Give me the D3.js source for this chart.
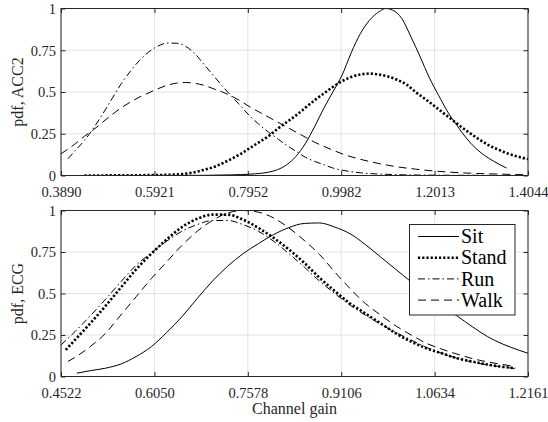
<!DOCTYPE html>
<html><head><meta charset="utf-8">
<script src="https://cdn.jsdelivr.net/npm/d3@7/dist/d3.min.js"></script>
<style>body{margin:0;background:#fff}svg{display:block}</style>
</head><body>
<svg id="c" width="548" height="422"></svg>
<script>
// ---- data ----
const seriesNames = ["Sit", "Stand", "Run", "Walk"];
const yTicks = [0, 0.25, 0.5, 0.75, 1];
const accTicks = [0.3890, 0.5921, 0.7952, 0.9982, 1.2013, 1.4044];
const ecgTicks = [0.4522, 0.6050, 0.7578, 0.9106, 1.0634, 1.2161];

// Top panel: ACC2
const accSitX = [0.56,0.70,0.76,0.80,0.84,0.86,0.88,0.90,0.92,0.94,0.96,0.98,1.00,1.02,1.04,1.06,1.08,1.095,1.11,1.13,1.15,1.17,1.19,1.21,1.23,1.25,1.27,1.29,1.31,1.33,1.358];
const accSitY = [0.0,0.001,0.004,0.008,0.02,0.035,0.065,0.115,0.19,0.29,0.40,0.50,0.60,0.735,0.85,0.93,0.98,1.0,0.99,0.94,0.83,0.71,0.585,0.48,0.38,0.30,0.225,0.165,0.12,0.085,0.044];
const accStandX = [0.44,0.52,0.60,0.64,0.66,0.68,0.70,0.72,0.74,0.76,0.78,0.80,0.82,0.84,0.86,0.88,0.90,0.92,0.94,0.96,0.98,1.00,1.02,1.04,1.06,1.08,1.10,1.12,1.14,1.16,1.18,1.20,1.22,1.24,1.26,1.28,1.30,1.32,1.34,1.36,1.38,1.4044];
const accStandY = [0.0,0.001,0.003,0.006,0.011,0.02,0.034,0.05,0.073,0.10,0.13,0.165,0.20,0.235,0.28,0.32,0.36,0.405,0.45,0.49,0.53,0.565,0.59,0.605,0.61,0.605,0.593,0.573,0.545,0.50,0.46,0.418,0.375,0.332,0.29,0.25,0.213,0.18,0.155,0.132,0.115,0.098];
const accRunX = [0.404,0.42,0.44,0.46,0.48,0.50,0.52,0.54,0.56,0.58,0.60,0.62,0.64,0.66,0.68,0.70,0.72,0.74,0.76,0.78,0.80,0.82,0.84,0.86,0.88,0.90,0.92,0.94,0.96,0.98,1.00,1.04,1.08,1.12,1.20,1.30,1.4044];
const accRunY = [0.10,0.15,0.21,0.285,0.37,0.46,0.55,0.625,0.69,0.74,0.775,0.793,0.792,0.773,0.73,0.665,0.60,0.535,0.475,0.415,0.355,0.305,0.26,0.22,0.18,0.145,0.11,0.085,0.065,0.045,0.032,0.016,0.009,0.005,0.002,0.001,0.0];
const accWalkX = [0.389,0.42,0.44,0.46,0.48,0.50,0.52,0.54,0.56,0.58,0.60,0.62,0.64,0.66,0.68,0.70,0.72,0.74,0.76,0.78,0.80,0.82,0.84,0.86,0.88,0.90,0.92,0.94,0.96,0.98,1.00,1.04,1.08,1.12,1.16,1.20,1.26,1.32,1.4044];
const accWalkY = [0.13,0.19,0.235,0.275,0.32,0.365,0.405,0.44,0.47,0.495,0.52,0.54,0.553,0.557,0.552,0.54,0.52,0.50,0.475,0.445,0.41,0.38,0.35,0.32,0.29,0.26,0.23,0.20,0.175,0.152,0.13,0.097,0.072,0.052,0.038,0.027,0.016,0.010,0.004];

// Bottom panel: ECG
const ecgSitX = [0.478,0.50,0.525,0.55,0.575,0.60,0.625,0.65,0.675,0.70,0.725,0.75,0.775,0.80,0.825,0.85,0.875,0.90,0.925,0.95,0.975,1.00,1.025,1.05,1.075,1.10,1.125,1.15,1.175,1.20,1.2161];
const ecgSitY = [0.02,0.035,0.05,0.075,0.12,0.18,0.265,0.36,0.47,0.575,0.665,0.74,0.80,0.855,0.897,0.922,0.925,0.90,0.86,0.795,0.72,0.645,0.57,0.50,0.43,0.365,0.30,0.24,0.195,0.16,0.14];
const ecgStandX = [0.46,0.475,0.50,0.525,0.55,0.575,0.60,0.625,0.65,0.675,0.70,0.725,0.75,0.775,0.80,0.825,0.85,0.875,0.90,0.925,0.95,0.975,1.00,1.025,1.05,1.075,1.10,1.125,1.15,1.175,1.195];
const ecgStandY = [0.16,0.22,0.32,0.425,0.535,0.645,0.74,0.825,0.90,0.95,0.975,0.975,0.945,0.895,0.835,0.765,0.685,0.595,0.515,0.44,0.38,0.32,0.26,0.21,0.17,0.14,0.11,0.09,0.072,0.058,0.05];
const ecgRunX = [0.4522,0.475,0.50,0.525,0.55,0.575,0.60,0.625,0.65,0.675,0.70,0.725,0.75,0.775,0.80,0.825,0.85,0.875,0.90,0.925,0.95,0.975,1.00,1.025,1.05,1.075,1.10,1.125,1.15,1.175,1.195];
const ecgRunY = [0.19,0.27,0.365,0.465,0.57,0.67,0.745,0.815,0.875,0.915,0.94,0.94,0.915,0.875,0.815,0.74,0.66,0.575,0.50,0.43,0.37,0.315,0.265,0.22,0.175,0.14,0.11,0.087,0.07,0.057,0.048];
const ecgWalkX = [0.4634,0.475,0.50,0.525,0.55,0.575,0.60,0.625,0.65,0.675,0.70,0.725,0.75,0.775,0.80,0.825,0.85,0.875,0.90,0.925,0.95,0.975,1.00,1.025,1.05,1.075,1.10,1.125,1.15,1.175,1.195];
const ecgWalkY = [0.09,0.115,0.18,0.26,0.37,0.48,0.59,0.69,0.79,0.875,0.94,0.985,1.0,0.99,0.955,0.895,0.82,0.735,0.63,0.53,0.44,0.37,0.305,0.25,0.20,0.165,0.135,0.108,0.088,0.072,0.06];

// ---- drawing ----
const svg = d3.select("#c");
const font = "Liberation Serif, Times New Roman, serif";
const styles = {
  Sit:   {w: 1,   dash: null},
  Stand: {w: 2.6, dash: "2.2,2"},
  Run:   {w: 1,   dash: "7,3,1.5,3"},
  Walk:  {w: 1,   dash: "8,5"}
};
const left = 61, right = 528;

function panel(top, bottom, xTicks, data, ylab, id) {
  const x = d3.scaleLinear().domain([xTicks[0], xTicks[xTicks.length-1]]).range([left, right]);
  const y = d3.scaleLinear().domain([0, 1]).range([bottom, top]);
  const g = svg.append("g");
  g.append("defs").append("clipPath").attr("id", id)
    .append("rect").attr("x", left).attr("y", top).attr("width", right-left).attr("height", bottom-top);
  // grid
  g.append("g").selectAll("line").data(xTicks).join("line")
    .attr("x1", d => x(d)).attr("x2", d => x(d)).attr("y1", top).attr("y2", bottom)
    .attr("stroke", "#e3e3e3").attr("stroke-width", 1);
  g.append("g").selectAll("line").data(yTicks).join("line")
    .attr("x1", left).attr("x2", right).attr("y1", d => y(d)).attr("y2", d => y(d))
    .attr("stroke", "#e3e3e3").attr("stroke-width", 1);
  // curves
  const line = d3.line().x(d => x(d[0])).y(d => y(d[1])).curve(d3.curveMonotoneX);
  const cg = g.append("g").attr("clip-path", `url(#${id})`);
  data.forEach(s => {
    cg.append("path").datum(d3.zip(s.x, s.y))
      .attr("d", line).attr("fill", "none").attr("stroke", "#000")
      .attr("stroke-width", styles[s.name].w)
      .attr("stroke-dasharray", styles[s.name].dash);
  });
  // axes (inward ticks on all sides)
  const tl = 4.5;
  const ax = g.append("g").attr("transform", `translate(0,${bottom})`)
    .call(d3.axisBottom(x).tickValues(xTicks).tickFormat(d3.format(".4f")).tickSizeInner(-tl).tickSizeOuter(0));
  ax.selectAll(".tick text").attr("y", 21).attr("dy", null);
  const axT = g.append("g").attr("transform", `translate(0,${top})`)
    .call(d3.axisTop(x).tickValues(xTicks).tickFormat("").tickSizeInner(-tl).tickSizeOuter(0));
  const ay = g.append("g").attr("transform", `translate(${left},0)`)
    .call(d3.axisLeft(y).tickValues(yTicks).tickFormat(d3.format("~g")).tickSizeInner(-tl).tickSizeOuter(0));
  ay.selectAll(".tick text").attr("x", -5).attr("dy", "0.33em");
  const ayR = g.append("g").attr("transform", `translate(${right},0)`)
    .call(d3.axisRight(y).tickValues(yTicks).tickFormat("").tickSizeInner(-tl).tickSizeOuter(0));
  [ax, axT, ay, ayR].forEach(a => {
    a.attr("font-family", font);
    a.select(".domain").remove();
    a.selectAll(".tick line").attr("stroke", "#262626");
    a.selectAll("text").attr("font-family", font).attr("font-size", 14.5).attr("fill", "#262626");
  });
  g.append("rect").attr("x", left).attr("y", top).attr("width", right-left).attr("height", bottom-top)
    .attr("fill", "none").attr("stroke", "#262626").attr("stroke-width", 1);
  g.append("text").attr("transform", `translate(23,${(top+bottom)/2}) rotate(-90)`)
    .attr("text-anchor", "middle").attr("font-family", font).attr("font-size", 16).attr("fill", "#262626")
    .text(ylab);
  return {x, y, g};
}

panel(8.5, 175.5, accTicks, [
  {name: "Sit", x: accSitX, y: accSitY},
  {name: "Stand", x: accStandX, y: accStandY},
  {name: "Run", x: accRunX, y: accRunY},
  {name: "Walk", x: accWalkX, y: accWalkY}
], "pdf, ACC2", "clipTop");

panel(210.5, 376.5, ecgTicks, [
  {name: "Sit", x: ecgSitX, y: ecgSitY},
  {name: "Stand", x: ecgStandX, y: ecgStandY},
  {name: "Run", x: ecgRunX, y: ecgRunY},
  {name: "Walk", x: ecgWalkX, y: ecgWalkY}
], "pdf, ECG", "clipBot");

svg.append("text").attr("x", (left+right)/2).attr("y", 414).attr("text-anchor", "middle")
  .attr("font-family", font).attr("font-size", 16).attr("fill", "#262626").text("Channel gain");

// legend
const lg = svg.append("g");
lg.append("rect").attr("x", 409.5).attr("y", 224.5).attr("width", 105.5).attr("height", 90.5)
  .attr("fill", "#fff").attr("stroke", "#262626").attr("stroke-width", 1);
seriesNames.forEach((n, i) => {
  const yy = 236.5 + i * 21.2;
  lg.append("line").attr("x1", 418).attr("x2", 459).attr("y1", yy).attr("y2", yy)
    .attr("stroke", "#000").attr("stroke-width", styles[n].w).attr("stroke-dasharray", styles[n].dash);
  lg.append("text").attr("x", 461).attr("y", yy).attr("dy", "0.33em")
    .attr("font-family", font).attr("font-size", 20).attr("fill", "#000").text(n);
});
</script>
</body></html>
